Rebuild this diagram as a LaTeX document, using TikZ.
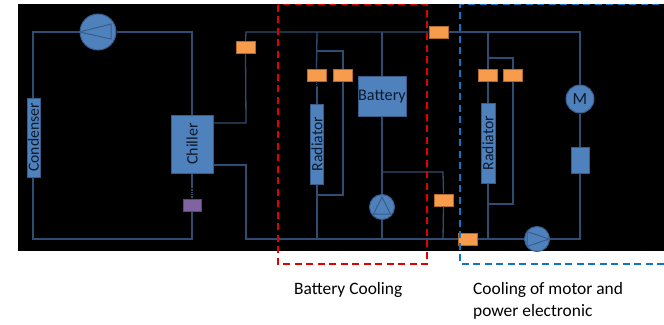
\documentclass[tikz,border=0pt]{standalone}
\usepackage{fontspec}
\setmainfont{Carlito}
\definecolor{wire}{HTML}{2F4D73}
\definecolor{bfill}{HTML}{4F81BD}
\definecolor{bline}{HTML}{385D8A}
\definecolor{ofill}{HTML}{F79C4C}
\definecolor{oline}{HTML}{B5692C}
\definecolor{pfill}{HTML}{8064A2}
\definecolor{pline}{HTML}{5C4776}
\definecolor{dblue}{HTML}{0F76C6}
\definecolor{ink}{HTML}{0E1A2B}
\tikzset{
 wirel/.style={draw=wire,line width=1.3pt},
 boxn/.style={draw=bline,fill=bfill,line width=1pt,inner sep=0pt},
 valve/.style={draw=oline,fill=ofill,line width=1pt,minimum width=19pt,minimum height=12pt,inner sep=0pt},
 round/.style={circle,draw=bline,fill=bfill,line width=1pt,inner sep=0pt},
 frame/.style={line width=1.3pt,dash pattern=on 7pt off 4.5pt},
 inlab/.style={text=ink,inner sep=0pt},
 lab/.style={font=\fontsize{17.4}{22}\selectfont,align=left,anchor=west,inner sep=0pt}
}
\begin{document}
\begin{tikzpicture}[x=1pt,y=-1pt]
\useasboundingbox (0,0) rectangle (664,324);
\fill[black] (18,4) rectangle (664,251);
% coordinates
\coordinate (tl) at (33,32);
\coordinate (bl) at (33,239);
\coordinate (tc) at (192,32);
\coordinate (bc) at (192,239);
\coordinate (c1) at (246,123);
\coordinate (c2) at (246,32);
\coordinate (c3) at (246,165);
\coordinate (c4) at (246,239);
\coordinate (r1t) at (317,32);
\coordinate (r1a) at (317,51);
\coordinate (r1b) at (343,51);
\coordinate (r1c) at (343,195);
\coordinate (r1d) at (317,195);
\coordinate (r1e) at (317,239);
\coordinate (bt) at (382,32);
\coordinate (bj) at (382,172);
\coordinate (bk) at (443,172);
\coordinate (bm) at (443,239);
\coordinate (bb) at (382,239);
\coordinate (r2t) at (488,32);
\coordinate (r2a) at (488,58);
\coordinate (r2b) at (513,58);
\coordinate (r2c) at (513,204);
\coordinate (r2d) at (488,204);
\coordinate (r2e) at (488,239);
\coordinate (mt) at (580,32);
\coordinate (mb) at (581,239);
\coordinate (chd) at (192,187);
\coordinate (r1f) at (317,87);
% components
\node[boxn,minimum width=13pt,minimum height=79pt] (cond) at (33.5,137.5) {};
\node[boxn,minimum width=42pt,minimum height=58pt] (chil) at (192,144) {};
\node[draw=pline,fill=pfill,line width=1pt,minimum width=18pt,minimum height=12pt,inner sep=0pt] (exp) at (192,205) {};
\node[round,minimum size=36pt] (comp) at (98,32) {};
\node[valve] (v1) at (245.5,47.5) {};
\node[valve] (v2) at (438.5,32) {};
\node[valve] (v3) at (316.5,75) {};
\node[valve] (v4) at (343,75) {};
\node[valve] (v5) at (443.5,200) {};
\node[valve] (v6) at (467.5,239) {};
\node[valve] (v7) at (488,75) {};
\node[valve] (v8) at (513,75) {};
\node[boxn,minimum width=13pt,minimum height=80pt] (rad1) at (317,144) {};
\node[boxn,minimum width=14pt,minimum height=80pt] (rad2) at (488,143) {};
\node[boxn,minimum width=48pt,minimum height=40pt] (batt) at (382,96.5) {};
\node[round,minimum size=25pt] (pump1) at (382,207) {};
\node[round,minimum size=25pt] (pump2) at (537,239) {};
\node[round,minimum size=28pt] (motor) at (580,99) {};
\node[boxn,minimum width=18pt,minimum height=26pt] (pe) at (580,160) {};
% connectors
\draw[wirel] (comp.west) -- (tl) -- (tl|-cond.north);
\draw[wirel] (tl|-cond.south) -- (bl) -- (bc) -- (exp.south);
\draw[wirel] (comp.east) -- (tc) -- (chil.north);
\draw[wirel] (chil.south) -- (chd);
\draw[wirel,densely dotted] (chd) -- (exp.north);
\draw[wirel] (chil.east|-c1) -- (c1) -- (v1.south);
\draw[wirel] (v1.north) -- (c2) -- (v2.west);
\draw[wirel] (chil.east|-c3) -- (c3) -- (c4) -- (v6.west);
\draw[wirel] (r1t) -- (v3.north);
\draw[wirel,densely dotted] (v3.south) -- (r1f);
\draw[wirel] (r1f) -- (rad1.north);
\draw[wirel] (r1a) -- (r1b) -- (v4.north);
\draw[wirel] (v4.south) -- (r1c) -- (r1d);
\draw[wirel] (rad1.south) -- (r1e);
\draw[wirel] (bt) -- (batt.north);
\draw[wirel] (batt.south) -- (pump1.north);
\draw[wirel] (pump1.south) -- (bb);
\draw[wirel] (bj) -- (bk) -- (v5.north);
\draw[wirel] (v5.south) -- (bm);
\draw[wirel] (v2.east) -- (mt) -- (motor.north);
\draw[wirel] (motor.south) -- (pe.north);
\draw[wirel] (pe.south) -- (pe.south|-mb) -- (pump2.east);
\draw[wirel] (pump2.west) -- (v6.east);
\draw[wirel] (r2t) -- (v7.north);
\draw[wirel] (v7.south) -- (rad2.north);
\draw[wirel] (r2a) -- (r2b) -- (v8.north);
\draw[wirel] (v8.south) -- (r2c) -- (r2d);
\draw[wirel] (rad2.south) -- (r2e);
% symbols inside machines
\draw[draw=bline,line width=1pt] (comp.west) -- (111,24) -- (111,39) -- cycle;
\draw[draw=bline,line width=1pt] (373.5,214) -- (382,197) -- (390.5,214) -- cycle;
\draw[draw=bline,line width=1pt] (527,231.5) -- (549,239) -- (527,246.5) -- cycle;
% labels
\node[inlab,rotate=90,font=\fontsize{15.6}{17}\selectfont] at (cond) {Condenser};
\node[inlab,rotate=90,font=\fontsize{16}{17}\selectfont] at (chil) {Chiller};
\node[inlab,rotate=90,font=\fontsize{15.7}{17}\selectfont] at (rad1) {Radiator};
\node[inlab,rotate=90,font=\fontsize{15.7}{17}\selectfont] at (rad2) {Radiator};
\node[inlab,font=\fontsize{16.2}{17}\selectfont] at (batt) {Battery};
\node[inlab,font=\fontsize{17}{17}\selectfont] at (motor) {M};
% frames
\draw[frame,draw=red!90!black] (278,4.5) rectangle (427,264);
\draw[frame,draw=dblue] (664,264) -- (460,264) -- (460,4.5) -- (664,4.5);
% captions
\node[lab] (cap1) at (294,290) {Battery Cooling};
\node[lab] (cap2) at (473,301) {Cooling of motor and\\power electronic};
\end{tikzpicture}
\end{document}
